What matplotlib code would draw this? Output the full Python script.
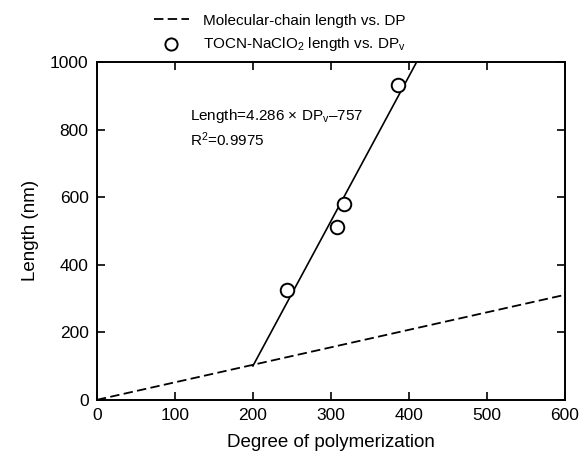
import numpy as np
import matplotlib as mpl
mpl.use('agg')
import matplotlib.pyplot as plt

plt.rcParams['font.family'] = ['Liberation Sans', 'DejaVu Sans']
plt.rcParams['mathtext.fontset'] = 'custom'
plt.rcParams['mathtext.rm'] = 'Liberation Sans'
plt.rcParams['mathtext.it'] = 'Liberation Sans'

# measured TOCN-NaClO2 lengths vs viscosity DP
dp_v = [244, 308, 317, 386]
length_nm = [326, 513, 579, 931]

# linear fit reported on the chart
slope = 4.286
intercept = -757
fit_dp = [200, (1000 - intercept) / slope]

# molecular-chain length, 0.518 nm per glucose unit
chain_dp = [0, 600]
nm_per_unit = 0.518

fig = plt.figure(figsize=(5.8, 4.66), dpi=100)
ax = fig.add_axes([0.167, 0.142, 0.807, 0.725])

ax.plot(chain_dp, [d * nm_per_unit for d in chain_dp], color='black', ls=(0, (5.2, 2.4)), lw=1.3,
        label='Molecular-chain length vs. DP')
ax.plot(fit_dp, [slope * d + intercept for d in fit_dp], color='black', lw=1.2)
ax.scatter(dp_v, length_nm, s=95, facecolors='white', edgecolors='black', linewidths=1.4, zorder=3,
           label='TOCN-NaClO$_2$ length vs. DP$_v$')

ax.text(120, 840, 'Length=4.286 \u00d7 DP$_v$\u2013757', fontsize=11, va='center')
ax.text(120, 770, 'R$^2$=0.9975', fontsize=11, va='center')

ax.set_xlim(0, 600)
ax.set_ylim(0, 1000)
ax.set_xticks(range(0, 601, 100))
ax.set_yticks(range(0, 1001, 200))
ax.tick_params(direction='in', length=6, width=1.2, top=True, right=True, labelsize=12.5, pad=6)
for s in ax.spines.values():
    s.set_linewidth(1.4)
ax.set_xlabel('Degree of polymerization', fontsize=13.5, labelpad=8)
ax.set_ylabel('Length (nm)', fontsize=13.5, labelpad=8)

fig.legend(loc='upper center', bbox_to_anchor=(0.482, 1.0), frameon=False, fontsize=11,
           handlelength=2.3, handletextpad=0.9, labelspacing=0.45, scatterpoints=1, markerscale=0.9)

fig.savefig('out.png')
